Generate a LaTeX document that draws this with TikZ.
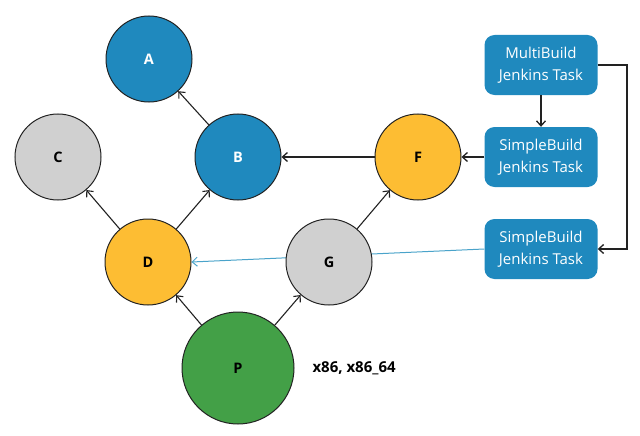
\documentclass[tikz,border=0pt]{standalone}
\usepackage{fontspec}
\setmainfont{Open Sans}
\usetikzlibrary{arrows.meta}
\definecolor{nblue}{HTML}{1F89BE}
\definecolor{nyellow}{HTML}{FDBD33}
\definecolor{ngray}{HTML}{D0D0D0}
\definecolor{ngreen}{HTML}{43A047}
\definecolor{lblue}{HTML}{4AA3CA}
\definecolor{edge}{HTML}{222222}
\tikzset{
  circ/.style={circle, draw=edge, line width=1pt, minimum size=86pt, inner sep=0pt, font=\bfseries\fontsize{14.5}{17}\selectfont},
  bigcirc/.style={circ, minimum size=112pt},
  task/.style={rounded corners=10pt, fill=nblue, text=white, minimum width=113pt, minimum height=60pt, align=center, font=\fontsize{15}{21.5}\selectfont},
  arr/.style={-{Straight Barb[length=5pt,width=9pt]}, line width=1.3pt, draw=edge},
  thin arr/.style={-{Straight Barb[length=5pt,width=9pt]}, line width=1.1pt, draw=edge},
}
\begin{document}
\begin{tikzpicture}[x=1pt,y=-1pt]
\useasboundingbox (0,0) rectangle (640,436);
\node[circ, fill=nblue, text=white] (A) at (149,59) {A};
\node[circ, fill=ngray] (C) at (58,157) {C};
\node[circ, fill=nblue, text=white] (B) at (238,157) {B};
\node[circ, fill=nyellow] (F) at (418,157) {F};
\node[circ, fill=nyellow] (D) at (148,262) {D};
\node[task] (T1) at (541,65) {MultiBuild\\Jenkins Task};
\node[task] (T2) at (541,157) {SimpleBuild\\Jenkins Task};
\node[task] (T3) at (541,249) {SimpleBuild\\Jenkins Task};
\draw[-{Straight Barb[length=5pt,width=9pt]}, line width=1pt, draw=lblue] (T3.west) -- (D.east);
\node[circ, fill=ngray] (G) at (329,262) {G};
\node[bigcirc, fill=ngreen] (P) at (238,368) {P};
\node[font=\bfseries\fontsize{15}{18}\selectfont, anchor=west] (L) at (309,368) {x86, x86\_64};
\draw[thin arr] (B) -- (A);
\draw[thin arr] (D) -- (C);
\draw[thin arr] (D) -- (B);
\draw[thin arr] (G) -- (F);
\draw[thin arr] (P) -- (D);
\draw[thin arr] (P) -- (G);
\draw[arr] (F) -- (B);
\draw[arr] (T2) -- (F);
\draw[arr] (T1) -- (T2);
\coordinate (R1) at (627,65);
\coordinate (R2) at (627,249);
\draw[arr] (T1.east) -- (R1) -- (R2) -- (T3.east);
\end{tikzpicture}
\end{document}
